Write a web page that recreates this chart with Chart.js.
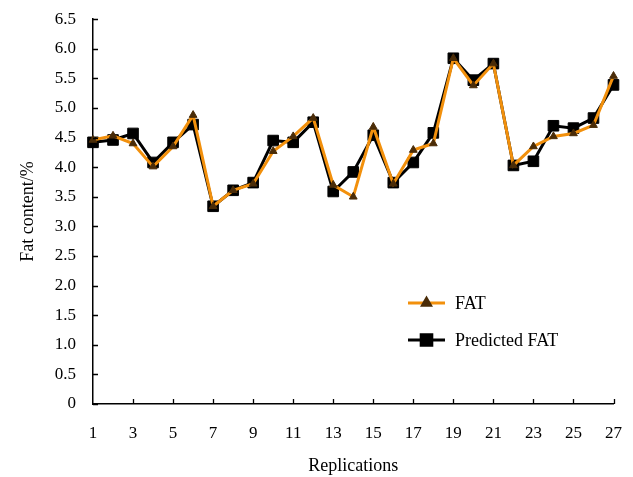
<!DOCTYPE html>
<html>
<head>
<meta charset="utf-8">
<script src="https://cdn.jsdelivr.net/npm/chart.js@4"></script>
<style>
  html, body { margin: 0; padding: 0; background: #fff; }
  #wrap { width: 633px; height: 477px; }
</style>
</head>
<body>
<div id="wrap"><canvas id="fatChart" width="633" height="477"></canvas></div>
<script>
const replications = Array.from({ length: 27 }, (_, i) => String(i + 1));

const fatValues = [
  4.46, 4.53, 4.40, 4.01, 4.35, 4.88, 3.34, 3.61, 3.72, 4.27,
  4.52, 4.83, 3.70, 3.50, 4.68, 3.72, 4.29, 4.40, 5.84, 5.38,
  5.75, 4.03, 4.35, 4.52, 4.57, 4.71, 5.54,
];

const predictedFatValues = [
  4.42, 4.46, 4.57, 4.08, 4.42, 4.72, 3.34, 3.61, 3.74, 4.45,
  4.42, 4.76, 3.59, 3.92, 4.54, 3.74, 4.08, 4.58, 5.84, 5.47,
  5.75, 4.03, 4.10, 4.70, 4.66, 4.83, 5.39,
];

const yTicks = [0, 0.5, 1, 1.5, 2, 2.5, 3, 3.5, 4, 4.5, 5, 5.5, 6, 6.5];

const FONT = "'Liberation Serif', 'Times New Roman', serif";
const ORANGE = "#f2900c";
const TRI_FILL = "#4a2c08";

// ticks pointing into the plot, like the original figure
const innerTicks = {
  id: "innerTicks",
  afterDraw(chart) {
    const { ctx, chartArea, scales } = chart;
    ctx.save();
    ctx.strokeStyle = "#000";
    ctx.lineWidth = 1.3;
    ctx.beginPath();
    yTicks.forEach((v) => {
      const y = Math.round(scales.y.getPixelForValue(v)) + 0.5;
      ctx.moveTo(chartArea.left, y);
      ctx.lineTo(chartArea.left + 5, y);
    });
    replications.forEach((label, i) => {
      if (i % 2 === 0 && i > 0) {
        const x = Math.round(scales.x.getPixelForValue(i)) + 0.5;
        ctx.moveTo(x, chartArea.bottom);
        ctx.lineTo(x, chartArea.bottom - 5);
      }
    });
    ctx.stroke();
    ctx.restore();
  },
};

// line + marker legend drawn inside the plot
const lineLegend = {
  id: "lineLegend",
  afterDraw(chart) {
    const { ctx } = chart;
    const rows = [
      { y: 303, ds: chart.data.datasets[0] },
      { y: 340, ds: chart.data.datasets[1] },
    ];
    ctx.save();
    rows.forEach(({ y, ds }) => {
      ctx.strokeStyle = ds.borderColor;
      ctx.lineWidth = ds.borderWidth;
      ctx.beginPath();
      ctx.moveTo(408, y);
      ctx.lineTo(445, y);
      ctx.stroke();
      ctx.fillStyle = ds.pointBackgroundColor;
      ctx.strokeStyle = ds.pointBorderColor;
      Chart.helpers.drawPoint(ctx, {
        pointStyle: ds.pointStyle,
        radius: ds.pointRadius,
        borderWidth: ds.pointBorderWidth,
      }, 426.5, y);
      ctx.fillStyle = "#000";
      ctx.font = "18px " + FONT;
      ctx.textBaseline = "middle";
      ctx.fillText(ds.label, 455, y + 1);
    });
    ctx.restore();
  },
};

new Chart(document.getElementById("fatChart"), {
  type: "line",
  data: {
    labels: replications,
    datasets: [
      {
        label: "FAT",
        data: fatValues,
        borderColor: ORANGE,
        borderWidth: 3,
        pointStyle: "triangle",
        pointRadius: 4.5,
        pointBackgroundColor: TRI_FILL,
        pointBorderColor: TRI_FILL,
        pointBorderWidth: 1,
        tension: 0,
      },
      {
        label: "Predicted FAT",
        data: predictedFatValues,
        borderColor: "#000",
        borderWidth: 3,
        pointStyle: "rect",
        pointRadius: 7.5,
        pointBackgroundColor: "#000",
        pointBorderColor: "#000",
        pointBorderWidth: 1,
        tension: 0,
      },
    ],
  },
  options: {
    responsive: false,
    animation: false,
    events: [],
    layout: { padding: { top: 19, right: 11, left: 0, bottom: 0 } },
    plugins: {
      legend: { display: false },
      tooltip: { enabled: false },
    },
    scales: {
      x: {
        type: "category",
        offset: false,
        afterFit(scale) { scale.height = 73; },
        border: { display: true, color: "#000", width: 1.5 },
        grid: { display: false },
        ticks: {
          autoSkip: false,
          maxRotation: 0,
          padding: 11,
          color: "#000",
          font: { family: FONT, size: 17 },
          callback(value, index) {
            return index % 2 === 0 ? replications[index] : "";
          },
        },
        title: {
          display: true,
          text: "Replications",
          color: "#000",
          font: { family: FONT, size: 18 },
          padding: { top: 6, bottom: 0 },
        },
      },
      y: {
        min: 0,
        max: 6.5,
        afterFit(scale) { scale.width = 93; },
        afterBuildTicks(scale) {
          scale.ticks = yTicks.map((v) => ({ value: v }));
        },
        border: { display: true, color: "#000", width: 1.5 },
        grid: { display: false },
        ticks: {
          padding: 9,
          color: "#000",
          font: { family: FONT, size: 17 },
          callback(value) {
            return value === 0 ? "0" : value.toFixed(1);
          },
        },
        title: {
          display: true,
          text: "Fat content/%",
          color: "#000",
          font: { family: FONT, size: 18 },
          padding: { top: 17, bottom: 0 },
        },
      },
    },
  },
  plugins: [innerTicks, lineLegend],
});
</script>
</body>
</html>
